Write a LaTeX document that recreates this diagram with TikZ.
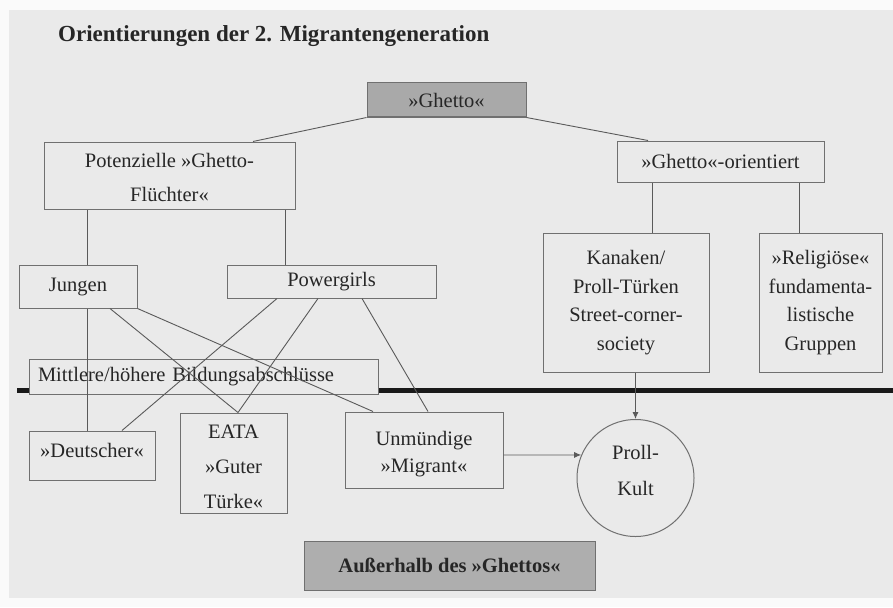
\documentclass[tikz,border=0pt]{standalone}
\usepackage{fontspec}
\setmainfont{Liberation Serif}
\usetikzlibrary{arrows.meta,calc}
\definecolor{bgc}{HTML}{EAEAEA}
\definecolor{marginc}{HTML}{FAFAFA}
\definecolor{boxc}{HTML}{707070}
\definecolor{linec}{HTML}{5A5A5A}
\definecolor{txtc}{HTML}{262626}
\definecolor{grayc}{HTML}{A9A9A9}
\definecolor{grayc2}{HTML}{AEAEAE}
\newcommand{\lines}[2]{\raisebox{#1}[0pt][0pt]{\begin{tabular}{@{}c@{}}#2\end{tabular}}}
\begin{document}
\begin{tikzpicture}[x=1pt,y=-1pt,
  box/.style={draw=boxc, line width=1pt, inner sep=0pt, align=center, text=txtc,
    font=\fontsize{20.5}{28}\selectfont},
  graybox/.style={box, fill=grayc},
  conn/.style={draw=linec, line width=0.9pt},
  arr/.style={conn, -{Latex[length=7pt,width=6pt]}},
  sep/.style={draw=black!90, line width=5pt}]
\useasboundingbox (0,0) rectangle (893,607);
\fill[marginc] (0,0) rectangle (893,607);
\fill[bgc] (9,10) rectangle (893,598);

% title
\node[anchor=base west, inner sep=0pt, text=txtc,
  font=\bfseries\fontsize{23}{28}\selectfont] (title) at (58,42)
  {Orientierungen der 2. Migrantengeneration};

% separator line
\coordinate (sepL) at (17,390);
\coordinate (sepR) at (893,390);
\draw[sep] (sepL) -- (sepR);

% nodes
\node[graybox, minimum width=159pt, minimum height=34pt] (ghetto) at (446.5,100) {»Ghetto«};
\node[box, minimum width=251pt, minimum height=67pt, font=\fontsize{20.5}{34}\selectfont]
  (pot) at (169.5,175.5) {\lines{-7.7pt}{Potenzielle »Ghetto-\\Flüchter«}};
\node[box, minimum width=207pt, minimum height=41pt] (orient) at (720.5,161.5) {»Ghetto«-orientiert};
\node[box, minimum width=166pt, minimum height=139pt, font=\fontsize{20.5}{28.5}\selectfont]
  (kan) at (626,302.5) {Kanaken/\\Proll-Türken\\Street-corner-\\society};
\node[box, minimum width=123pt, minimum height=139pt, font=\fontsize{20.5}{28.5}\selectfont]
  (rel) at (820.5,302.5) {»Religiöse«\\fundamenta-\\listische\\Gruppen};
\node[box, minimum width=118pt, minimum height=43pt] (jungen) at (78,286.5) {Jungen};
\node[box, minimum width=209pt, minimum height=33pt] (power) at (331.5,281.5) {Powergirls};
\node[box, fill=bgc, text width=331pt, align=left, inner xsep=9pt, minimum height=35pt]
  (mittl) at (203.5,376.5) {Mittlere/höhere Bildungsabschlüsse};
\node[box, minimum width=126pt, minimum height=49pt] (deut) at (92,455.5)
  {\raisebox{-1.5pt}[0pt][0pt]{»Deutscher«}};
\node[box, minimum width=107pt, minimum height=100pt, font=\fontsize{20.5}{35}\selectfont]
  (eata) at (233.5,463) {\lines{-8.5pt}{EATA\\»Guter\\Türke«}};
\node[box, minimum width=158pt, minimum height=76pt, font=\fontsize{20.5}{27}\selectfont]
  (unm) at (424,450) {\lines{-9pt}{Unmündige\\»Migrant«}};
\node[box, circle, minimum size=117pt, font=\fontsize{20.5}{36}\selectfont]
  (proll) at (635.5,478) {\lines{3pt}{Proll-\\Kult}};
\node[graybox, fill=grayc2, minimum width=291pt, minimum height=49pt, font=\bfseries\fontsize{20.5}{28}\selectfont]
  (auss) at (449.5,565.5) {Außerhalb des »Ghettos«};

% connectors
\draw[conn] (ghetto.south west) -- ([xshift=83.5pt]pot.north);
\draw[conn] (ghetto.south east) -- ([xshift=-72.5pt]orient.north);
\draw[conn] ([xshift=9pt]jungen.north) -- ([xshift=9pt]jungen.north |- pot.south);
\draw[conn] ([xshift=-46.5pt]power.north) -- ([xshift=-46.5pt]power.north |- pot.south);
\draw[conn] ([xshift=26pt]kan.north) -- ([xshift=26pt]kan.north |- orient.south);
\draw[conn] ([xshift=-21.5pt]rel.north) -- ([xshift=-21.5pt]rel.north |- orient.south);
\draw[conn] ([xshift=9pt]jungen.south) -- ([xshift=9pt]jungen.south |- deut.north);
\draw[conn] ([xshift=32pt]jungen.south) -- ([xshift=4.5pt]eata.north);
\draw[conn] (jungen.south east) -- ([xshift=-51pt]unm.north);
\draw[conn] ([xshift=-54.5pt]power.south) -- ([xshift=30pt]deut.north);
\draw[conn] ([xshift=-13.5pt]power.south) -- ([xshift=4.5pt]eata.north);
\draw[conn] ([xshift=30.5pt]power.south) -- ([xshift=4pt]unm.north);
\draw[arr] ([xshift=9.5pt]kan.south) -- (proll.north);
\draw[arr] ([yshift=-5pt]unm.east) -- (proll.157);
\end{tikzpicture}
\end{document}
